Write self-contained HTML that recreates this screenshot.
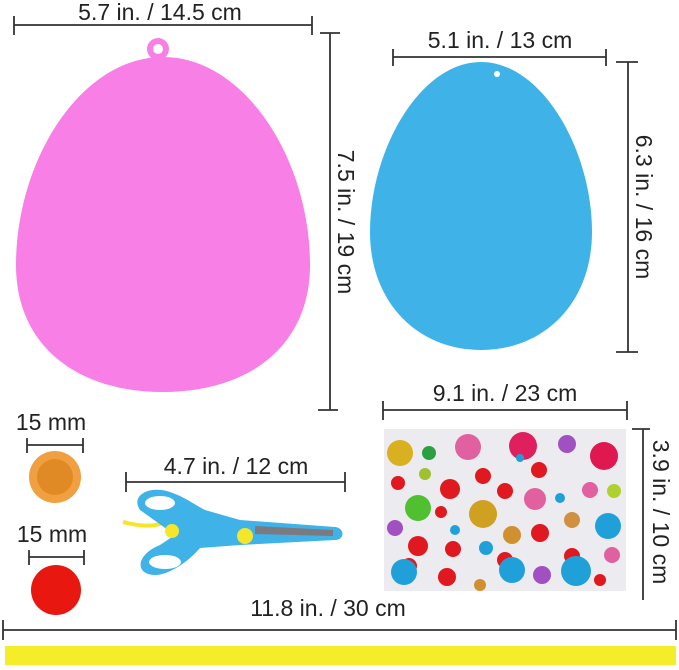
<!DOCTYPE html>
<html><head><style>
html,body{margin:0;padding:0;background:#fff;}
svg{display:block}
text{font-family:"Liberation Sans",sans-serif;fill:#222;}
</style></head><body>
<svg width="679" height="670" viewBox="0 0 679 670" xmlns="http://www.w3.org/2000/svg">
<g stroke="#333" stroke-width="1.8" fill="none">
<line x1="14" y1="25" x2="312" y2="25"/><line x1="14" y1="16" x2="14" y2="35"/><line x1="312" y1="16" x2="312" y2="35"/>
<line x1="330" y1="33" x2="330" y2="410"/><line x1="320" y1="33" x2="340" y2="33"/><line x1="318" y1="410" x2="338" y2="410"/>
<line x1="393" y1="57" x2="606" y2="57"/><line x1="393" y1="49" x2="393" y2="66"/><line x1="606" y1="49" x2="606" y2="66"/>
<line x1="628" y1="62" x2="628" y2="352"/><line x1="616" y1="62" x2="638" y2="62"/><line x1="616" y1="352" x2="638" y2="352"/>
<line x1="383" y1="410" x2="627" y2="410"/><line x1="383" y1="401" x2="383" y2="420"/><line x1="627" y1="401" x2="627" y2="420"/>
<line x1="643" y1="429" x2="643" y2="600"/><line x1="632" y1="429" x2="650" y2="429"/>
<line x1="27" y1="445" x2="83" y2="445"/><line x1="27" y1="438" x2="27" y2="453"/><line x1="83" y1="438" x2="83" y2="453"/>
<line x1="29" y1="557" x2="84" y2="557"/><line x1="29" y1="550" x2="29" y2="565"/><line x1="84" y1="550" x2="84" y2="565"/>
<line x1="126" y1="482" x2="345" y2="482"/><line x1="126" y1="472" x2="126" y2="492"/><line x1="345" y1="472" x2="345" y2="492"/>
<line x1="3" y1="630" x2="676" y2="630"/><line x1="3" y1="620" x2="3" y2="640"/><line x1="676" y1="620" x2="676" y2="640"/>
</g>
<g font-size="23" text-anchor="middle">
<text x="160" y="20">5.7 in. / 14.5 cm</text>
<text x="500" y="48">5.1 in. / 13 cm</text>
<text x="505" y="401">9.1 in. / 23 cm</text>
<text x="51" y="430">15 mm</text>
<text x="52" y="542">15 mm</text>
<text x="236" y="474">4.7 in. / 12 cm</text>
<text x="328" y="616">11.8 in. / 30 cm</text>
<text transform="translate(338,222) rotate(90)">7.5 in. / 19 cm</text>
<text transform="translate(636,207) rotate(90)">6.3 in. / 16 cm</text>
<text transform="translate(653,512) rotate(90)">3.9 in. / 10 cm</text>
</g>
<circle cx="158" cy="49" r="11" fill="#f77fe6"/>
<circle cx="158" cy="49" r="5" fill="#fff"/>
<path d="M163,57 C245,57 310,160 310,265 C310,345 250,392 163,392 C76,392 16,345 16,265 C16,160 81,57 163,57 Z" fill="#f77fe6"/>
<path d="M481,62 C542,62 592,150 592,232 C592,302 545,350 481,350 C417,350 370,302 370,232 C370,150 420,62 481,62Z" fill="#3fb3e8"/>
<circle cx="497" cy="74" r="3" fill="#fff"/>
<circle cx="55" cy="477" r="26" fill="#f0a040"/>
<circle cx="55" cy="477" r="18" fill="#e08a25"/>
<circle cx="56" cy="590" r="25" fill="#e81810"/>
<g>
<path d="M123,522 C135,525 150,528 163,523" stroke="#f5e62a" stroke-width="4" fill="none"/>
<path d="M140,510 C130,495 150,485 170,492 C185,497 195,505 205,510 L240,520 L335,527 C345,528 345,540 335,540 L240,545 L200,548 C190,560 170,575 155,575 C135,575 135,555 160,545 L175,535 Z" fill="#3fb3e8"/>
<ellipse cx="160" cy="503" rx="15" ry="7" fill="#fff"/>
<ellipse cx="165" cy="562" rx="16" ry="7" fill="#fff"/>
<path d="M255,526 L333,530 L333,536 L255,534Z" fill="#7a7a80"/>
<circle cx="172" cy="531" r="7" fill="#f5e62a"/>
<circle cx="245" cy="536" r="8" fill="#f5e62a"/>
</g>
<rect x="384" y="429" width="242" height="162" fill="#ebebf0"/>
<g>
<circle cx="400" cy="453" r="13" fill="#d9b020"/><circle cx="429" cy="453" r="7" fill="#2aa040"/>
<circle cx="468" cy="447" r="13" fill="#e060a0"/><circle cx="523" cy="446" r="14" fill="#e0205e"/>
<circle cx="567" cy="444" r="9" fill="#a050c0"/><circle cx="604" cy="456" r="14" fill="#e01850"/>
<circle cx="398" cy="483" r="7" fill="#e01820"/><circle cx="425" cy="474" r="6" fill="#a0c030"/>
<circle cx="450" cy="489" r="10" fill="#e01820"/><circle cx="483" cy="476" r="8" fill="#e01820"/>
<circle cx="505" cy="491" r="8" fill="#e01820"/><circle cx="539" cy="470" r="8" fill="#e01820"/>
<circle cx="535" cy="499" r="11" fill="#e060a0"/><circle cx="590" cy="490" r="8" fill="#e060a0"/>
<circle cx="614" cy="491" r="7" fill="#b0d030"/><circle cx="418" cy="508" r="13" fill="#50c030"/>
<circle cx="483" cy="514" r="14" fill="#d0a020"/><circle cx="441" cy="512" r="6" fill="#e01820"/>
<circle cx="395" cy="528" r="8" fill="#a050c0"/><circle cx="572" cy="520" r="8" fill="#d09040"/>
<circle cx="608" cy="526" r="13" fill="#20a0d8"/><circle cx="418" cy="546" r="10" fill="#e01820"/>
<circle cx="409" cy="566" r="8" fill="#e01820"/><circle cx="453" cy="549" r="8" fill="#e01820"/>
<circle cx="486" cy="548" r="7" fill="#20a0d8"/><circle cx="512" cy="535" r="9" fill="#d09030"/>
<circle cx="540" cy="533" r="9" fill="#e01820"/><circle cx="505" cy="560" r="8" fill="#e01820"/>
<circle cx="572" cy="556" r="8" fill="#e01820"/><circle cx="612" cy="555" r="8" fill="#e060a0"/>
<circle cx="404" cy="572" r="13" fill="#20a0d8"/><circle cx="512" cy="570" r="13" fill="#20a0d8"/>
<circle cx="576" cy="571" r="15" fill="#20a0d8"/><circle cx="542" cy="575" r="9" fill="#a050c0"/>
<circle cx="447" cy="577" r="9" fill="#e01820"/><circle cx="480" cy="585" r="6" fill="#d09030"/>
<circle cx="600" cy="580" r="6" fill="#e01820"/><circle cx="455" cy="530" r="5" fill="#20a0d8"/>
<circle cx="520" cy="458" r="4" fill="#20a0d8"/><circle cx="560" cy="498" r="5" fill="#20a0d8"/>
</g>
<rect x="5" y="646" width="671" height="19" fill="#f5ec2a"/>
</svg>
</body></html>
